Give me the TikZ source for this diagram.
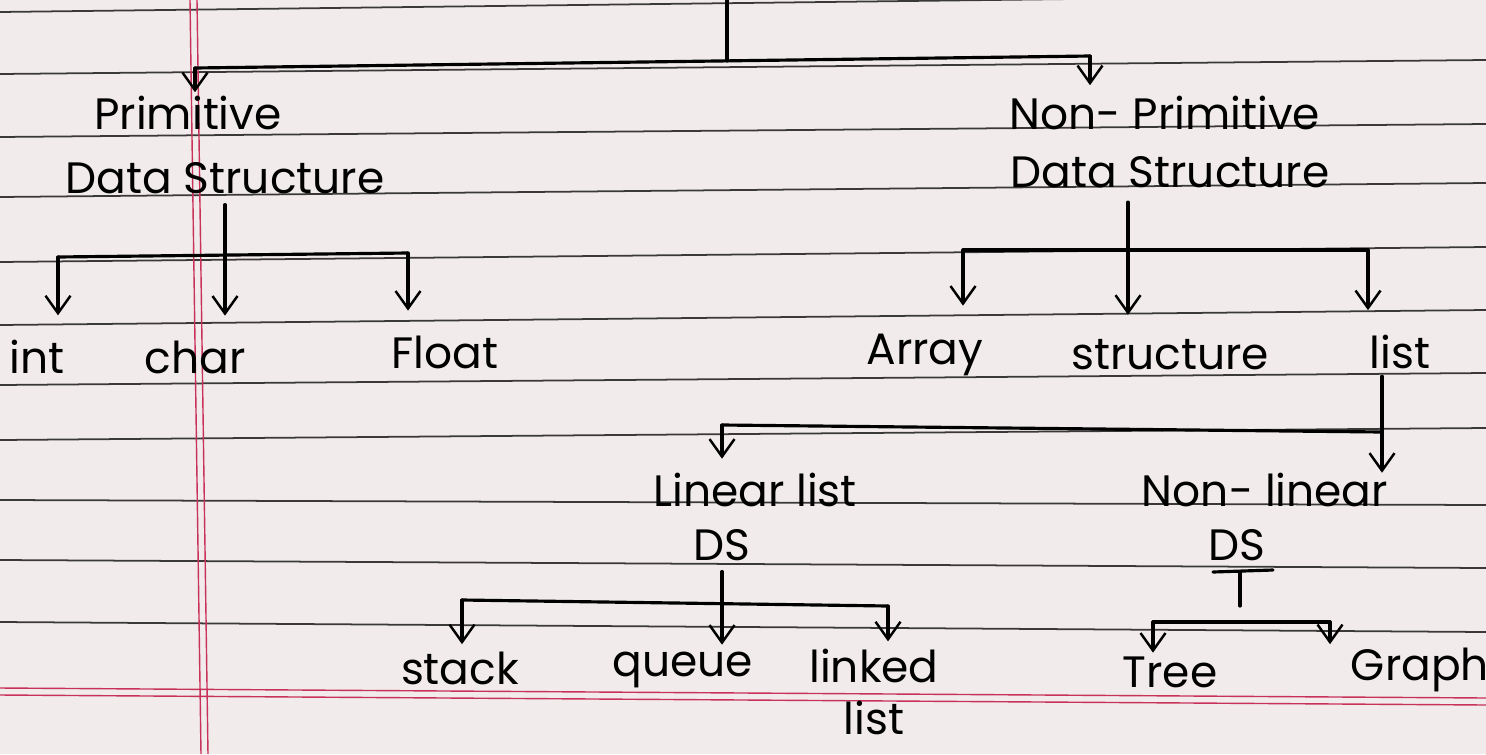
\documentclass[tikz,border=0pt]{standalone}
\usepackage{fontspec}
\setmainfont{Poppins}
\usetikzlibrary{arrows.meta}

\definecolor{paper}{HTML}{F1ECEB}
\definecolor{ruling}{HTML}{3A3838}
\definecolor{margin}{HTML}{C8325A}

\begin{document}
\begin{tikzpicture}[x=0.02cm, y=-0.02cm,
    lbl/.style={font=\fontsize{25}{30}\selectfont, inner sep=0pt, align=center},
    pen/.style={line width=1.8pt, line cap=round, line join=round},
    down/.style={pen, -{Straight Barb[length=3.5mm, width=5mm, line width=1.4pt]}}]
	% Notebook page
	\fill[paper] (0,0) rectangle (1486,754);
	\useasboundingbox (0,0) rectangle (1486,754);
	\foreach \ya/\yb in {12/-6, 74/60, 137/124, 197/183, 262/247, 325/310, 385/373, 440/428, 500/505, 560/568, 622/632} {
		\draw[ruling, line width=1pt] (0,\ya) -- (1486,\yb);
	}
	\draw[margin, line width=0.8pt] (0,688) -- (1486,698) (0,695) -- (1486,705);
	\draw[margin, line width=0.8pt] (190,0) -- (201,754) (197,0) -- (208,754);
	
	% Labels
	\node[lbl] (prim)  at (188,113)  {Primitive};
	\node[lbl] (pds)   at (225,178)  {Data Structure};
	\node[lbl] (nprim) at (1165,113) {Non- Primitive};
	\node[lbl] (npds)  at (1170,172) {Data Structure};
	\node[lbl] (int)   at (37,357)   {int};
	\node[lbl] (chr)   at (195,357)  {char};
	\node[lbl] (flt)   at (445,352)  {Float};
	\node[lbl] (arr)   at (925,355)  {Array};
	\node[lbl] (str)   at (1170,355) {structure};
	\node[lbl] (lst)   at (1400,352) {list};
	\node[lbl] (lin)   at (755,490)  {Linear list};
	\node[lbl] (lds)   at (722,545)  {DS};
	\node[lbl] (nlin)  at (1265,490) {Non- linear};
	\node[lbl] (nlds)  at (1237,545) {DS};
	\node[lbl] (stk)   at (460,668)  {stack};
	\node[lbl] (que)   at (683,670)  {queue};
	\node[lbl] (lnk)   at (874,692)  {linked\\list};
	\node[lbl] (tree)  at (1170,672) {Tree};
	\node[lbl] (grph)  at (1420,670) {Graph};
	
	% Top split
	\coordinate (top) at (727,0);
	\coordinate (tl) at (195,68);
	\coordinate (tr) at (1090,56);
	\draw[pen] (top) -- (727,61);
	\draw[pen] (tl) -- (tr);
	\draw[down, shorten >=2pt] (tl) -- (tl |- prim.north);
	\draw[down, shorten >=6pt] (tr) -- (tr |- nprim.north);
	
	% Primitive kinds
	\coordinate (pl) at (58,257);
	\coordinate (pr) at (408,253);
	\draw[pen] (pl) -- (pr);
	\draw[down, shorten >=14pt] ([yshift=-6pt]pds.south) -- (pds.south |- chr.north);
	\draw[down, shorten >=14pt] (pl) -- (pl |- int.north);
	\draw[down, shorten >=14pt] (pr) -- (pr |- flt.north);
	
	% Non-primitive kinds
	\coordinate (ql) at (963,250);
	\coordinate (qm) at (1128,250);
	\coordinate (qr) at (1368,250);
	\draw[pen] (ql) -- (qr);
	\draw[down, shorten >=14pt] ([yshift=-8pt]qm |- npds.south) -- (qm |- str.north);
	\draw[down, shorten >=16pt] (ql) -- (ql |- arr.north);
	\draw[down, shorten >=14pt] (qr) -- (qr |- lst.north);
	
	% Lists
	\coordinate (ll) at (722,425);
	\coordinate (lm) at (1382,432);
	\draw[pen] (ll) -- (lm);
	\draw[down] ([yshift=-4pt]lm |- lst.south) -- (lm |- nlin.north);
	\draw[down, shorten >=8pt] (ll) -- (ll |- lin.north);
	
	% Linear structures
	\coordinate (sl) at (462,600);
	\coordinate (sr) at (888,606);
	\draw[pen] (sl) -- (sr);
	\draw[down, shorten >=4pt] ([yshift=-6pt]lds.south) -- (lds.south |- que.north);
	\draw[down, shorten >=4pt] (sl) -- (sl |- stk.north);
	\draw[down, shorten >=4pt] (sr) -- (sr |- lnk.north);
	
	% Non-linear structures
	\coordinate (nt) at (1240,572);
	\coordinate (gl) at (1153,622);
	\coordinate (gr) at (1330,622);
	\draw[pen] (1213,572) -- (1273,570);
	\draw[pen] (nt) -- (nt |- 0,606);
	\draw[pen] (gl) -- (gr);
	\draw[down, shorten >=2pt] (gl) -- (gl |- tree.north);
	\draw[down, shorten >=2pt] (gr) -- (gr |- grph.north);
\end{tikzpicture}
\end{document}
